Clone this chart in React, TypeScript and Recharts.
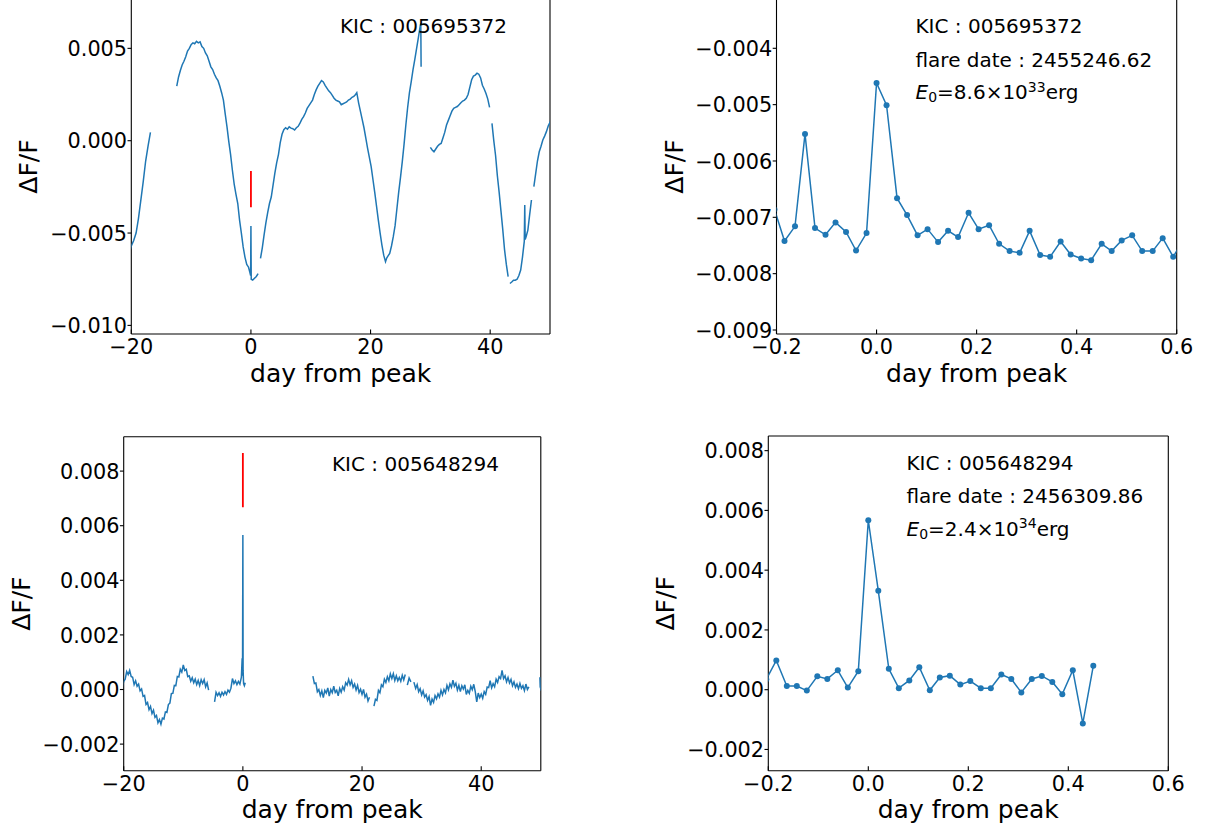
import React from 'react';
import { LineChart, Line, XAxis, YAxis, ReferenceLine } from 'recharts';

const BLUE = '#1f77b4';
const RED = '#ff0000';
const FONT = "'DejaVu Sans', 'Liberation Sans', sans-serif";
const PPT = 0.001; // light-curve values below are typed in parts per thousand

// ---------------- tick values ----------------
const xTicksLong = [-20, 0, 20, 40];
const xTicksShort = [-0.2, 0, 0.2, 0.4, 0.6];
const yTicksA = [-0.01, -0.005, 0, 0.005];
const yTicksB = [-0.009, -0.008, -0.007, -0.006, -0.005, -0.004];
const yTicksC = [-0.002, 0, 0.002, 0.004, 0.006, 0.008];
const yTicksD = [-0.002, 0, 0.002, 0.004, 0.006, 0.008];

// ---------------- texts ----------------
const xTitle = 'day from peak';
const yTitle = 'ΔF/F';
const kicA = 'KIC : 005695372';
const dateA = 'flare date : 2455246.62';
const energyA = { mant: '8.6', exp: '33' };
const kicB = 'KIC : 005648294';
const dateB = 'flare date : 2456309.86';
const energyB = { mant: '2.4', exp: '34' };

// ---------------- KIC 005695372 light curve [day, ppt] (null = gap) ----------------
const lcA: [number, number | null][] = [
  [-20.4, -6.2], [-20.0, -5.7], [-19.6, -5.4], [-19.2, -5.0], [-18.8, -4.2], [-18.4, -3.2], [-18.0, -2.2],
  [-17.6, -1.1], [-17.2, -0.3], [-16.8, 0.45],
  [-14.6, null],
  [-12.4, 2.95], [-12.1, 3.45], [-11.8, 3.8], [-11.5, 4.1], [-11.2, 4.3], [-10.9, 4.55], [-10.6, 4.85],
  [-10.3, 5.0], [-10.0, 5.2], [-9.7, 5.3], [-9.4, 5.25], [-9.1, 5.38], [-8.8, 5.3], [-8.5, 5.35],
  [-8.2, 5.1], [-7.9, 5.0], [-7.6, 4.75], [-7.3, 4.6], [-7.0, 4.3], [-6.7, 4.0], [-6.4, 3.85], [-6.1, 3.6],
  [-5.8, 3.4], [-5.5, 3.25], [-5.2, 2.95], [-4.9, 2.6], [-4.6, 2.2], [-4.3, 1.45], [-4.0, 0.75],
  [-3.7, -0.05], [-3.4, -0.75], [-3.1, -1.6], [-2.8, -2.35], [-2.5, -2.9], [-2.2, -3.4], [-1.9, -4.3],
  [-1.6, -5.0], [-1.3, -5.75], [-1.0, -6.3], [-0.7, -6.7], [-0.4, -6.85], [-0.2, -7.1], [-0.05, -7.3],
  [0.0, -4.62], [0.05, -7.5], [0.3, -7.55], [0.6, -7.45], [0.9, -7.35], [1.2, -7.2],
  [1.4, null],
  [1.6, -6.37], [1.9, -5.8], [2.2, -5.1], [2.5, -4.45], [2.8, -3.9], [3.1, -3.4], [3.4, -3.05], [3.7, -2.4],
  [4.0, -1.75], [4.3, -1.2], [4.6, -0.75], [4.9, -0.1], [5.2, 0.35], [5.5, 0.6], [5.8, 0.7], [6.1, 0.62],
  [6.4, 0.75], [6.7, 0.68], [7.0, 0.65], [7.3, 0.58], [7.6, 0.7], [7.9, 0.78], [8.2, 0.95], [8.5, 1.15],
  [8.8, 1.3], [9.1, 1.5], [9.4, 1.75], [9.7, 1.9], [10.0, 2.05], [10.3, 2.2], [10.6, 2.5], [10.9, 2.75],
  [11.2, 2.95], [11.5, 3.1], [11.8, 3.25], [12.1, 3.18], [12.4, 3.0], [12.7, 2.85], [13.0, 2.7],
  [13.3, 2.6], [13.6, 2.45], [13.9, 2.3], [14.2, 2.2], [14.5, 2.15], [14.8, 2.1], [15.1, 1.95],
  [15.4, 2.0], [15.7, 2.05], [16.0, 2.1], [16.3, 2.2], [16.6, 2.25], [16.9, 2.35], [17.2, 2.4],
  [17.5, 2.5], [17.7, 2.6], [18.0, 2.05], [18.3, 1.6], [18.6, 1.15], [18.9, 0.7], [19.2, 0.15],
  [19.5, -0.4], [19.8, -0.9], [20.1, -1.4], [20.4, -2.1], [20.7, -2.8], [21.0, -3.55], [21.3, -4.3],
  [21.6, -5.0], [21.9, -5.65], [22.2, -6.2], [22.5, -6.55], [22.7, -6.35], [22.9, -6.25], [23.2, -6.1],
  [23.5, -5.7], [23.8, -5.2], [24.1, -4.6], [24.4, -3.7], [24.7, -2.8], [25.0, -2.0], [25.3, -1.15],
  [25.6, -0.2], [25.9, 0.85], [26.2, 1.8], [26.5, 2.6], [26.8, 3.2], [27.1, 3.85], [27.4, 4.4],
  [27.7, 5.0], [28.0, 5.6], [28.3, 6.2], [28.4, 6.35], [28.45, 4.0],
  [29.2, null],
  [30.0, -0.36], [30.3, -0.5], [30.6, -0.6], [30.9, -0.45], [31.2, -0.3], [31.5, -0.2], [31.8, -0.15],
  [32.1, 0.15], [32.4, 0.45], [32.7, 0.85], [33.0, 1.1], [33.3, 1.35], [33.6, 1.6], [33.9, 1.75],
  [34.2, 1.8], [34.5, 1.85], [34.8, 1.95], [35.1, 2.05], [35.4, 2.15], [35.7, 2.2], [36.0, 2.3],
  [36.3, 2.5], [36.6, 2.9], [36.9, 3.3], [37.2, 3.5], [37.5, 3.55], [37.8, 3.65], [38.1, 3.6],
  [38.4, 3.4], [38.7, 3.0], [39.0, 2.8], [39.3, 2.55], [39.6, 2.25], [39.9, 1.8],
  [40.1, null],
  [40.3, 0.94], [40.6, 0.0], [40.9, -0.8], [41.2, -1.9], [41.5, -2.8], [41.8, -3.8], [42.1, -4.8],
  [42.4, -5.9], [42.7, -6.7], [43.0, -7.36],
  [43.15, null],
  [43.3, -7.73], [43.6, -7.65], [43.9, -7.55], [44.2, -7.55], [44.5, -7.5], [44.8, -7.3], [45.1, -7.0],
  [45.4, -6.3], [45.7, -5.45], [45.78, -3.48], [45.85, -5.35], [46.0, -5.2], [46.3, -4.84], [46.6, -4.0],
  [46.9, -3.21],
  [47.1, null],
  [47.3, -2.49], [47.6, -1.8], [47.9, -1.1], [48.2, -0.6], [48.5, -0.3], [48.8, 0.04], [49.1, 0.25],
  [49.4, 0.49], [49.7, 0.8], [50.0, 1.0], [50.3, 1.2],
];
const markA: [number, number][] = [[0, -1.64], [0, -3.61]];

// ---------------- KIC 005648294 light curve [day, ppt] (null = gap) ----------------
const lcC: [number, number | null][] = [
  [-20.25, 0.05], [-20.0, 0.30], [-19.75, 0.38], [-19.5, 0.66], [-19.25, 0.55], [-19.0, 0.70], [-18.75, 0.48],
  [-18.5, 0.45], [-18.25, 0.18], [-18.0, 0.32], [-17.75, 0.12], [-17.5, 0.20], [-17.25, -0.05], [-17.0, 0.02],
  [-16.75, -0.25], [-16.5, -0.22], [-16.25, -0.55], [-16.0, -0.48], [-15.75, -0.74], [-15.5, -0.62],
  [-15.25, -0.88], [-15.0, -0.76], [-14.75, -1.02], [-14.5, -0.95], [-14.25, -1.22], [-14.0, -1.10],
  [-13.75, -1.27], [-13.5, -1.05], [-13.25, -1.08], [-13.0, -0.82], [-12.75, -0.84], [-12.5, -0.55],
  [-12.25, -0.50], [-12.0, -0.15], [-11.75, -0.14], [-11.5, 0.15], [-11.25, 0.14], [-11.0, 0.48],
  [-10.75, 0.46], [-10.5, 0.74], [-10.25, 0.64], [-10.0, 0.90], [-9.75, 0.70], [-9.5, 0.74], [-9.25, 0.47],
  [-9.0, 0.50], [-8.75, 0.30], [-8.5, 0.43], [-8.25, 0.25], [-8.0, 0.38], [-7.75, 0.18], [-7.5, 0.33],
  [-7.25, 0.14], [-7.0, 0.36], [-6.75, 0.22], [-6.5, 0.36], [-6.25, 0.10], [-6.0, 0.24], [-5.75, -0.02],
  [-5.2, null],
  [-4.75, -0.45], [-4.5, -0.10], [-4.25, -0.22], [-4.0, -0.12], [-3.75, -0.25], [-3.5, -0.10], [-3.25, -0.20],
  [-3.0, -0.08], [-2.75, -0.18], [-2.5, -0.02], [-2.25, -0.10], [-2.0, 0.05], [-1.75, 0.40], [-1.5, 0.22],
  [-1.25, 0.32], [-1.0, 0.18], [-0.75, 0.30], [-0.5, 0.20], [-0.25, 0.45], [-0.12, 1.14], [-0.06, 0.50],
  [0.0, 5.66], [0.02, 3.30], [0.04, 0.70], [0.12, 0.22], [0.25, 0.14], [0.4, 0.25],
  [6.0, null],
  [11.75, 0.49], [12.0, 0.22], [12.25, 0.24], [12.5, -0.08], [12.75, 0.00], [13.0, -0.22], [13.25, -0.05],
  [13.5, -0.30], [13.75, -0.03], [14.0, -0.13], [14.25, 0.06], [14.5, -0.24], [14.75, 0.00], [15.0, -0.12],
  [15.25, 0.12], [15.5, -0.11], [15.75, -0.03], [16.0, -0.23], [16.25, 0.04], [16.5, -0.10], [16.75, 0.10],
  [17.0, -0.02], [17.25, 0.25], [17.5, 0.16], [17.75, 0.37], [18.0, 0.17], [18.25, 0.32], [18.5, 0.08],
  [18.75, 0.20], [19.0, -0.02], [19.25, 0.15], [19.5, -0.11], [19.75, 0.01], [20.0, -0.18], [20.25, 0.00],
  [20.5, -0.28], [20.75, -0.17], [21.0, -0.42], [21.25, -0.28],
  [21.4, null],
  [21.5, -0.20],
  [21.7, null],
  [22.0, -0.61], [22.25, -0.36], [22.5, -0.40], [22.75, -0.03], [23.0, -0.12], [23.25, 0.17], [23.5, 0.10],
  [23.75, 0.38], [24.0, 0.26], [24.25, 0.47], [24.5, 0.32], [24.75, 0.57], [25.0, 0.40], [25.25, 0.58],
  [25.5, 0.33], [25.75, 0.50], [26.0, 0.32], [26.25, 0.44], [26.5, 0.30], [26.75, 0.52], [27.0, 0.35],
  [27.25, 0.55],
  [27.45, null],
  [27.6, 0.16], [27.9, 0.42], [28.2, 0.28],
  [28.45, null],
  [28.7, 0.27], [29.0, 0.04], [29.25, 0.18], [29.5, -0.08], [29.75, 0.03], [30.0, -0.20], [30.25, -0.05],
  [30.5, -0.28], [30.75, -0.19], [31.0, -0.40], [31.25, -0.26], [31.5, -0.58], [31.75, -0.35], [32.0, -0.47],
  [32.25, -0.22], [32.5, -0.34], [32.75, -0.16], [33.0, -0.28], [33.25, -0.03], [33.5, -0.20], [33.75, 0.00],
  [34.0, -0.12], [34.25, 0.15], [34.5, -0.01], [34.75, 0.21], [35.0, 0.08], [35.25, 0.34], [35.5, 0.12],
  [35.75, 0.23], [36.0, -0.02], [36.25, 0.15], [36.5, -0.08], [36.75, 0.14], [37.0, 0.02], [37.25, 0.17],
  [37.5, -0.18], [37.75, -0.03], [38.0, -0.14], [38.25, 0.12], [38.5, -0.01], [38.75, 0.19], [39.0, -0.08],
  [39.25, -0.45], [39.5, -0.13], [39.75, -0.30], [40.0, -0.17], [40.25, -0.32], [40.5, -0.08], [40.75, -0.18],
  [41.0, 0.09], [41.25, 0.07], [41.5, 0.32], [41.75, 0.06], [42.0, 0.21], [42.25, 0.10], [42.5, 0.38],
  [42.75, 0.26], [43.0, 0.47], [43.25, 0.40], [43.5, 0.70], [43.75, 0.40], [44.0, 0.50], [44.25, 0.28],
  [44.5, 0.44], [44.75, 0.24], [45.0, 0.37], [45.25, 0.14], [45.5, 0.28], [45.75, 0.08], [46.0, 0.20],
  [46.25, 0.03], [46.5, 0.22], [46.75, 0.04], [47.0, 0.14], [47.25, -0.04], [47.5, 0.20], [47.75, 0.00],
  [48.0, 0.10],
  [49.0, null],
  [49.85, 0.45], [49.9, 0.10], [50.1, -0.05],
];
const markC: [number, number][] = [[0, 8.66], [0, 6.68]];

// ---------------- flare close-ups (cadence times in days, flux in ppt) ----------------
const flareTimes = [
  -0.204, -0.184, -0.163, -0.143, -0.123, -0.102, -0.082, -0.061, -0.041, -0.020, 0.000, 0.020, 0.041,
  0.061, 0.082, 0.102, 0.123, 0.143, 0.163, 0.184, 0.204, 0.225, 0.245, 0.266, 0.286, 0.306, 0.327,
  0.347, 0.368, 0.388, 0.409, 0.429, 0.450, 0.470, 0.490, 0.511, 0.531, 0.552, 0.572, 0.593, 0.613,
];
const flareFluxB = [
  -6.86, -7.42, -7.16, -5.52, -7.19, -7.31, -7.09, -7.26, -7.59, -7.28, -4.615, -5.01, -6.66, -6.96,
  -7.32, -7.21, -7.44, -7.24, -7.35, -6.92, -7.21, -7.14, -7.47, -7.60, -7.63, -7.24, -7.67, -7.70,
  -7.43, -7.66, -7.73, -7.76, -7.47, -7.60, -7.41, -7.32, -7.60, -7.60, -7.37, -7.70, -7.41,
];
const flareFluxD = [
  0.35, 0.98, 0.12, 0.12, -0.03, 0.45, 0.36, 0.65, 0.07, 0.62, 5.67, 3.31, 0.70, 0.05, 0.31, 0.75,
  -0.02, 0.41, 0.47, 0.17, 0.29, 0.05, 0.05, 0.51, 0.36, -0.09, 0.36, 0.46, 0.26, -0.15, 0.65, -1.13, 0.80,
];

// ---------------- helpers ----------------
const fromPairs = (pairs: [number, number | null][]) =>
  pairs.map(([t, f]) => ({ t, v: f === null ? null : f * PPT }));
const fromArrays = (ts: number[], fs: number[]) => fs.map((f, i) => ({ t: ts[i], v: f * PPT }));

const fmtTick = (v: number, dec: number) => {
  const s = Math.abs(v).toFixed(dec);
  return v < -1e-12 ? '\u2212' + s : s;
};

const TICK_FS = 20.8;
const TITLE_FS = 25;
const ANN_FS = 20;

function makeXTick(dec: number) {
  return (props: any) => {
    const { x, y, payload } = props;
    return (
      <g>
        <line x1={x} x2={x} y1={y} y2={y - 4.5} stroke="#000" strokeWidth={1.1} />
        <text x={x} y={y + 20} textAnchor="middle" fontFamily={FONT} fontSize={TICK_FS} fill="#000">
          {fmtTick(payload.value, dec)}
        </text>
      </g>
    );
  };
}

function makeYTick(dec: number) {
  return (props: any) => {
    const { x, y, payload } = props;
    return (
      <g>
        <line x1={x} x2={x - 3.8} y1={y} y2={y} stroke="#000" strokeWidth={1.1} />
        <text x={x - 4.2} y={y + 7.6} textAnchor="end" fontFamily={FONT} fontSize={TICK_FS} fill="#000">
          {fmtTick(payload.value, dec)}
        </text>
      </g>
    );
  };
}

type Series = { data: any[]; color: string; width: number; dots?: boolean };
type PanelCfg = {
  left: number; top: number; width: number; height: number;
  plot: { l: number; r: number; t: number; b: number };
  xDomain: [number, number]; yDomain: [number, number];
  xTicks: number[]; yTicks: number[]; xDec: number; yDec: number;
  series: Series[];
};

function Panel({ cfg }: { cfg: PanelCfg }) {
  const { left, top, width, height, plot } = cfg;
  const pl = plot.l - left;
  const pr = plot.r - left;
  const pt = plot.t - top;
  const pb = plot.b - top;
  const margin = { top: pt, left: pl - 1, right: width - pr, bottom: height - pb - 1 };
  const frame = { stroke: '#000', strokeWidth: 1.1 };
  const xLabel = () => (
    <text x={(pl + pr) / 2} y={pb + 47.5} textAnchor="middle" fontFamily={FONT} fontSize={TITLE_FS} fill="#000">
      {xTitle}
    </text>
  );
  const yx = pl - 94;
  const yy = (pt + pb) / 2;
  const yLabel = () => (
    <text x={yx} y={yy} transform={`rotate(-90, ${yx}, ${yy})`} textAnchor="middle" fontFamily={FONT}
      fontSize={TITLE_FS} fill="#000">
      {yTitle}
    </text>
  );
  return (
    <div style={{ position: 'absolute', left, top, width, height }}>
      <LineChart width={width} height={height} margin={margin}>
        <XAxis type="number" dataKey="t" domain={cfg.xDomain} allowDataOverflow ticks={cfg.xTicks} interval={0}
          height={1} tickSize={0} tickMargin={0} tickLine={false} axisLine={false}
          tick={makeXTick(cfg.xDec)} label={xLabel} />
        <YAxis type="number" domain={cfg.yDomain} allowDataOverflow ticks={cfg.yTicks} interval={0}
          width={1} tickSize={0} tickMargin={0} tickLine={false} axisLine={false}
          tick={makeYTick(cfg.yDec)} label={yLabel} />
        <ReferenceLine x={cfg.xDomain[0]} {...frame} />
        <ReferenceLine x={cfg.xDomain[1]} {...frame} />
        <ReferenceLine y={cfg.yDomain[0]} {...frame} />
        <ReferenceLine y={cfg.yDomain[1]} {...frame} />
        {cfg.series.map((s, i) => (
          <Line key={i} data={s.data} dataKey="v" type="linear" stroke={s.color} strokeWidth={s.width}
            dot={s.dots ? { r: 3, fill: s.color, stroke: s.color, strokeWidth: 0 } : false}
            activeDot={false} isAnimationActive={false} connectNulls={false} />
        ))}
      </LineChart>
    </div>
  );
}

const panels: PanelCfg[] = [
  {
    left: 0, top: -40, width: 600, height: 438,
    plot: { l: 131.3, r: 550, t: -1, b: 334 },
    xDomain: [-20, 50], yDomain: [-0.010466, 0.007672],
    xTicks: xTicksLong, yTicks: yTicksA, xDec: 0, yDec: 3,
    series: [
      { data: fromPairs(lcA), color: BLUE, width: 1.5 },
      { data: fromPairs(markA), color: RED, width: 1.8 },
    ],
  },
  {
    left: 640, top: -40, width: 566, height: 438,
    plot: { l: 776.5, r: 1176.7, t: -1, b: 334 },
    xDomain: [-0.2, 0.6], yDomain: [-0.009071, -0.003125],
    xTicks: xTicksShort, yTicks: yTicksB, xDec: 1, yDec: 3,
    series: [{ data: fromArrays(flareTimes, flareFluxB), color: BLUE, width: 1.5, dots: true }],
  },
  {
    left: 0, top: 400, width: 600, height: 428,
    plot: { l: 123.7, r: 540.8, t: 436.7, b: 770.7 },
    xDomain: [-20, 50], yDomain: [-0.002974, 0.00926],
    xTicks: xTicksLong, yTicks: yTicksC, xDec: 0, yDec: 3,
    series: [
      { data: fromPairs(lcC), color: BLUE, width: 1.5 },
      { data: fromPairs(markC), color: RED, width: 1.8 },
    ],
  },
  {
    left: 640, top: 400, width: 566, height: 428,
    plot: { l: 768.3, r: 1168.3, t: 436, b: 770.7 },
    xDomain: [-0.2, 0.6], yDomain: [-0.002711, 0.00849],
    xTicks: xTicksShort, yTicks: yTicksD, xDec: 1, yDec: 3,
    series: [{ data: fromArrays(flareTimes.slice(0, flareFluxD.length), flareFluxD), color: BLUE, width: 1.5, dots: true }],
  },
];

function EnergyText({ x, y, e }: { x: number; y: number; e: { mant: string; exp: string } }) {
  return (
    <text x={x} y={y} fontFamily={FONT} fontSize={ANN_FS} fill="#000">
      <tspan fontStyle="italic">E</tspan>
      <tspan fontSize={14} dy={2.5}>0</tspan>
      <tspan dy={-2.5}>{`=${e.mant}×10`}</tspan>
      <tspan fontSize={14} dy={-7.6}>{e.exp}</tspan>
      <tspan dy={7.6}>erg</tspan>
    </text>
  );
}

const Ann = ({ x, y, s }: { x: number; y: number; s: string }) => (
  <text x={x} y={y} fontFamily={FONT} fontSize={ANN_FS} fill="#000">{s}</text>
);

export default function App() {
  return (
    <div style={{ position: 'absolute', left: 0, top: 0, width: 1206, height: 828, overflow: 'hidden', background: '#fff' }}>
      {panels.map((p, i) => <Panel key={i} cfg={p} />)}
      <svg width={1206} height={828} style={{ position: 'absolute', left: 0, top: 0, pointerEvents: 'none' }}>
        <Ann x={340} y={33.3} s={kicA} />
        <Ann x={915.5} y={33.3} s={kicA} />
        <Ann x={915.5} y={66.7} s={dateA} />
        <EnergyText x={915.5} y={99.3} e={energyA} />
        <Ann x={332} y={470.5} s={kicB} />
        <Ann x={906.5} y={470} s={kicB} />
        <Ann x={906.5} y={503.3} s={dateB} />
        <EnergyText x={906.5} y={536} e={energyB} />
      </svg>
    </div>
  );
}
